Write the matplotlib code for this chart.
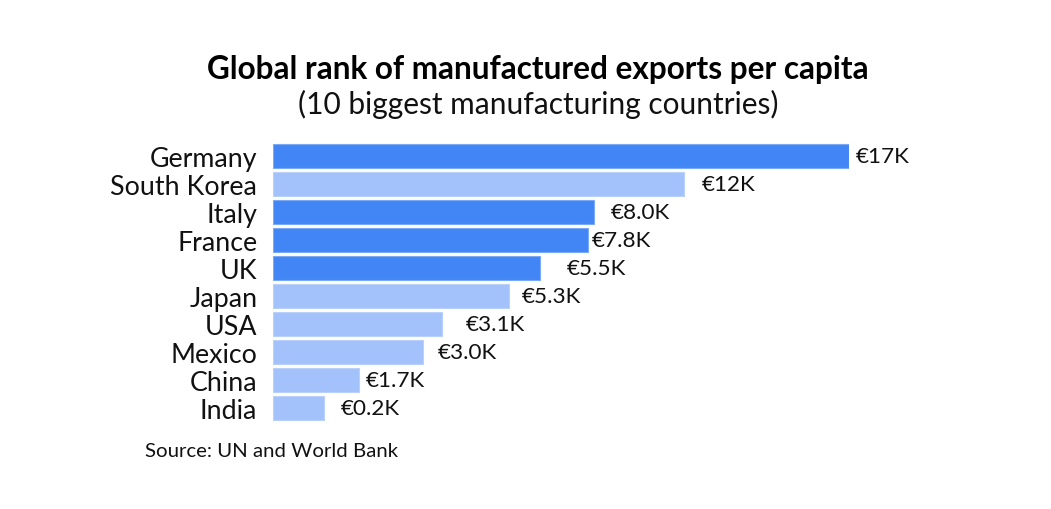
import matplotlib
matplotlib.use("Agg")
import matplotlib.pyplot as plt

countries = ["Germany", "South Korea", "Italy", "France", "UK",
             "Japan", "USA", "Mexico", "China", "India"]
# bar length (index, Germany = 100)
rank_score = [100, 71.3, 55.6, 54.7, 46.25, 41.0, 29.3, 26.0, 14.8, 8.85]
value_labels = ["€17K", "€12K", "€8.0K", "€7.8K", "€5.5K",
                "€5.3K", "€3.1K", "€3.0K", "€1.7K", "€0.2K"]
highlight = [True, False, True, True, True, False, False, False, False, False]

# layout: label gap after each bar in pixels
label_gap_px = [6.7, 17.7, 17.3, 3.4, 27, 12.4, 23.4, 14.4, 7.3, 16.4]

DARK = "#4286f5"
LIGHT = "#a3c2fb"
DARK_EDGE = "#7aa9f7"
LIGHT_EDGE = "#b9d0fb"

plt.rcParams['font.family'] = ['Lato', 'DejaVu Sans']

W, H = 1051, 510
fig = plt.figure(figsize=(W / 100, H / 100), dpi=100)
ax_left = 273.3 / W
ax_w = 576.0 / W
ax_bottom = (H - 423.2) / H
ax_h = 280.1 / H
ax = fig.add_axes([ax_left, ax_bottom, ax_w, ax_h])

ypos = list(range(len(countries)))
colors = [DARK if h else LIGHT for h in highlight]
edges = [DARK_EDGE if h else LIGHT_EDGE for h in highlight]
ax.barh(ypos, rank_score, height=0.867, color=colors, edgecolor=edges,
        linewidth=0.8)
ax.set_xlim(0, 100)
ax.set_ylim(9.5, -0.5)

ax.set_yticks(ypos)
ax.set_yticklabels(countries, fontsize=19.3, color="#111111")
ax.tick_params(axis='y', length=0, pad=11.5)
ax.set_xticks([])
for s in ax.spines.values():
    s.set_visible(False)

for y, v, lab, gap in zip(ypos, rank_score, value_labels, label_gap_px):
    ax.annotate(lab, xy=(v, y), xytext=(gap, 0), textcoords='offset pixels',
                ha='left', va='center', fontsize=16.2, color="#111111")

fig.text(538 / W, 1 - 70 / H, "Global rank of manufactured exports per capita",
         ha='center', va='center', fontsize=22.7, fontweight='bold', color="#000000")
fig.text(538 / W, 1 - 104 / H, "(10 biggest manufacturing countries)",
         ha='center', va='center', fontsize=21.5, color="#111111")
fig.text(145 / W, 1 - 452 / H, "Source: UN and World Bank",
         ha='left', va='center', fontsize=14.7, color="#111111")

fig.savefig("out.png", dpi=100, facecolor="white")
